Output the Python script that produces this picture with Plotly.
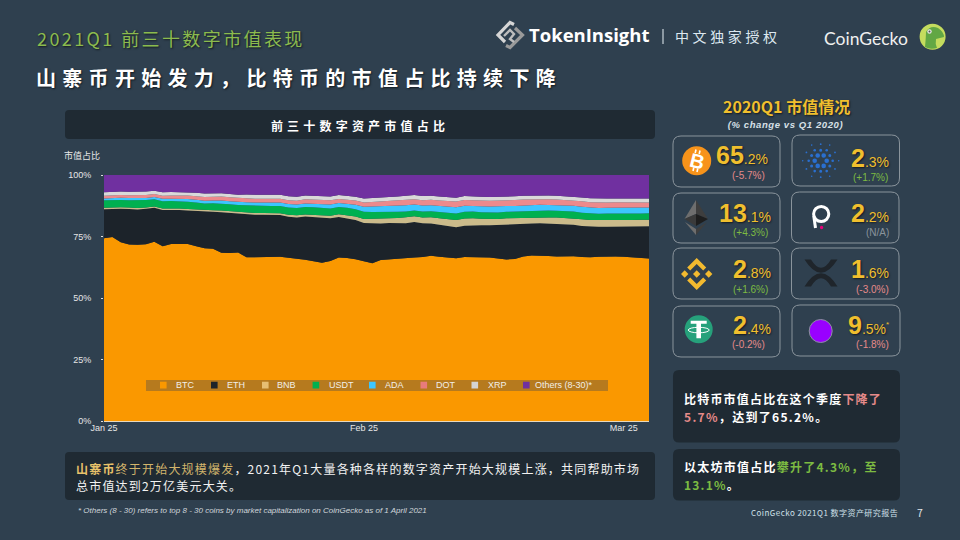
import json, math, re
import plotly.graph_objects as go

# ---------- data (share of market cap, %) ----------
days = list(range(66))
tick_idx = [0, 31, 62]
tick_labels = ["Jan 25", "Feb 25", "Mar 25"]
y_ticks = [0, 25, 50, 75, 100]
y_labels = ["0%", "25%", "50%", "75%", "100%"]

BTC = [74.2,74.9,73.2,72.2,72.2,72.6,73.4,71.8,72.5,72.4,72.5,71.4,70.5,70.2,68.7,68.4,68.4,
       66.8,67.1,67.2,67.3,67.3,66.8,66.5,66.3,65.7,64.9,65.6,67.5,66.9,66.3,65.3,65.0,
       66.0,66.4,66.5,66.3,66.4,66.5,66.8,66.5,66.3,66.1,66.3,66.4,66.4,66.5,66.3,66.0,
       66.1,67.3,67.9,68.0,67.7,67.2,67.3,67.2,66.9,66.8,66.9,66.9,66.8,66.7,66.7,66.4,66.1]
ETH = [11.8,11.5,13.8,14.6,14.5,14.5,14.0,14.9,14.0,14.0,13.7,14.4,14.8,15.0,16.5,16.3,15.7,
       17.5,17.3,17.2,17.2,17.1,16.8,16.8,17.8,18.2,18.6,17.6,16.8,16.3,16.1,15.7,16.3,
       15.0,14.9,14.5,14.1,14.4,13.7,13.1,13.0,12.9,12.6,12.7,12.9,13.1,13.1,13.7,14.4,
       14.0,13.3,13.1,13.3,13.3,13.4,13.1,12.9,12.7,12.5,12.2,12.1,12.2,12.3,12.5,12.7,13.1]
BNB = [.6,.6,.6,.6,.6,.6,.5,.6,.6,.6,.6,.6,.6,.6,.7,.7,.7,
       .7,.7,.7,.7,.7,.8,.9,.9,.9,.9,1.0,1.1,1.3,1.4,1.6,1.9,
       2.0,2.0,2.1,2.4,2.3,2.4,2.5,2.6,2.7,2.9,2.9,2.8,2.6,2.5,2.4,2.4,
       2.6,2.6,2.5,2.5,2.5,2.5,2.6,2.6,2.7,2.7,2.7,2.7,2.7,2.7,2.7,2.7,2.7]
USDT = [3.0,3.0,3.0,3.0,3.1,3.0,3.0,3.0,3.0,3.0,3.0,2.9,2.9,2.9,2.9,2.9,2.9,
        3.0,3.0,3.0,3.0,3.0,3.0,3.0,3.0,3.0,3.0,3.0,3.0,3.0,3.0,3.0,2.9,
        2.7,2.6,2.6,2.4,2.4,2.4,2.4,2.5,2.6,2.7,2.7,2.7,2.7,2.7,2.7,2.7,
        2.7,2.8,2.8,2.8,2.8,2.8,2.8,2.8,2.7,2.7,2.6,2.6,2.6,2.6,2.6,2.6,2.6]
ADA = [.8,.8,.9,.9,.9,.9,.9,1.0,1.0,1.0,1.1,1.1,1.1,1.1,1.2,1.2,1.2,
       1.3,1.3,1.3,1.4,1.4,1.4,1.4,1.5,1.5,1.5,1.6,1.6,1.6,1.8,2.0,2.2,
       2.4,2.4,2.5,2.5,2.4,2.4,2.5,2.5,2.5,2.5,2.5,2.4,2.4,2.4,2.4,2.3,
       2.3,2.3,2.3,2.3,2.3,2.3,2.3,2.3,2.4,2.4,2.4,2.4,2.4,2.4,2.4,2.4,2.4]
DOT = [1.1,1.1,1.1,1.1,1.2,1.2,1.2,1.3,1.3,1.3,1.4,1.4,1.5,1.5,1.6,1.6,1.6,
       1.6,1.6,1.6,1.6,1.6,1.6,1.6,1.7,1.7,1.7,1.7,1.7,1.7,1.7,1.8,1.9,
       2.0,2.0,2.1,2.2,2.2,2.2,2.2,2.2,2.3,2.3,2.3,2.3,2.3,2.3,2.4,2.4,
       2.4,2.4,2.4,2.4,2.4,2.3,2.3,2.3,2.3,2.2,2.2,2.1,2.1,2.1,2.1,2.0,2.0]
XRP = [1.4,1.4,1.4,1.4,1.4,1.4,1.3,1.4,1.4,1.4,1.4,1.4,1.4,1.4,1.4,1.4,1.4,
       1.5,1.6,1.6,1.6,1.6,1.6,1.6,1.6,1.6,1.6,1.6,1.6,1.6,1.6,1.6,1.6,
       1.6,1.6,1.6,1.7,1.7,1.7,1.6,1.6,1.6,1.6,1.6,1.6,1.6,1.6,1.6,1.5,
       1.5,1.5,1.5,1.5,1.5,1.5,1.5,1.5,1.5,1.6,1.6,1.6,1.6,1.6,1.6,1.6,1.6]
OTHERS = [7.0,6.8,6.8,6.9,6.9,6.8,6.5,7.1,7.0,7.0,7.0,7.3,7.6,7.5,7.4,7.7,8.0,
          8.0,8.1,8.1,8.1,8.1,8.7,8.9,8.4,8.5,8.7,8.8,8.3,8.5,8.9,9.6,9.5,
          9.2,9.1,8.8,8.4,8.1,8.5,8.4,8.7,8.9,9.2,8.5,8.5,8.8,8.9,8.9,8.8,
          8.7,8.5,8.4,8.3,8.4,8.5,8.7,8.8,9.2,9.5,9.6,9.6,9.5,9.5,9.6,9.6,9.6]

series_names = ["BTC", "ETH", "BNB", "USDT", "ADA", "DOT", "XRP", "Others (8-30)*"]
series_values = [BTC, ETH, BNB, USDT, ADA, DOT, XRP, OTHERS]
series_colors = ["#FA9800", "#1C232A", "#CBBB8B", "#00B050", "#3CC6FF", "#EC8A8C", "#D9D9D9", "#7030A0"]
legend_colors = ["#FA9800", "#1C232A", "#E6BE73", "#00B050", "#3CC6FF", "#E97B7B", "#D4D4D4", "#7030A0"]

# ---------- styling ----------
W, H = 960, 540
BG = "#2F404F"
PANEL = "#1F2A33"
GOLD = "#F0BF2E"
GREEN = "#7CBB42"
RED = "#E58A8A"
GREY = "#8A949C"
CJK = "Noto Sans CJK SC"
LAT = "Liberation Sans"

px = lambda x: x / W
py = lambda y: 1 - y / H


def path(*segs):
    out = []
    for s in segs:
        c, nums = s[0], s[1:]
        pts = [f"{px(nums[i]):.5f},{py(nums[i+1]):.5f}" for i in range(0, len(nums), 2)]
        out.append(c + " " + " ".join(pts))
    return " ".join(out)


shapes, annos, spacing = [], [], {}


def add_path(d, fill=None, line=None, lw=0):
    shapes.append(dict(type="path", xref="paper", yref="paper", path=d, layer="above",
                       fillcolor=fill or "rgba(0,0,0,0)",
                       line=dict(color=line or "rgba(0,0,0,0)", width=lw)))


def poly(points, fill=None, line=None, lw=0, close=True):
    segs = [("M",) + points[0]] + [("L",) + p for p in points[1:]]
    d = path(*segs) + (" Z" if close else "")
    add_path(d, fill, line, lw)


def rrect(x0, y0, x1, y1, r, fill=None, line=None, lw=0):
    d = path(("M", x0 + r, y0), ("L", x1 - r, y0), ("Q", x1, y0, x1, y0 + r), ("L", x1, y1 - r),
             ("Q", x1, y1, x1 - r, y1), ("L", x0 + r, y1), ("Q", x0, y1, x0, y1 - r), ("L", x0, y0 + r),
             ("Q", x0, y0, x0 + r, y0)) + " Z"
    add_path(d, fill, line, lw)


def circle(cx, cy, r, fill=None, line=None, lw=0):
    shapes.append(dict(type="circle", xref="paper", yref="paper", layer="above",
                       x0=px(cx - r), x1=px(cx + r), y0=py(cy + r), y1=py(cy - r),
                       fillcolor=fill or "rgba(0,0,0,0)",
                       line=dict(color=line or "rgba(0,0,0,0)", width=lw)))


def txt(x, y, text, size, color="#FFFFFF", anchor="left", ls=0, family=CJK, shadow=None, angle=0):
    font = dict(size=size, color=color, family=family)
    if shadow:
        font["shadow"] = shadow
    annos.append(dict(x=px(x), y=py(y), xref="paper", yref="paper", text=text, showarrow=False,
                      xanchor=anchor, yanchor="middle", align=anchor, font=font, borderpad=0,
                      borderwidth=0, textangle=angle))
    if ls:
        spacing[re.sub(r"<[^>]+>", "", text)] = ls


SH = "1px 1px 2px rgba(0,0,0,0.6)"

# ---------- header ----------
txt(37, 38, "2021Q1 前三十数字市值表现", 18, "#8CBB4E", ls=2.4, shadow=SH)
txt(36, 78, "<b>山寨币开始发力，比特币的市值占比持续下降</b>", 20, "#FFFFFF", ls=6.3, shadow=SH)

poly([(514, 24.5), (510, 22.5), (498, 35), (505, 42)], line="#D6D6D6", lw=3.2, close=False)
poly([(506, 45.5), (510, 47.5), (522.5, 35), (515, 28)], line="#9A9A9A", lw=3.2, close=False)
poly([(504, 36), (510, 30), (514, 34), (510, 39), (514, 42)], line="#BDBDBD", lw=2.4, close=False)
txt(529, 35, "<b>TokenInsight</b>", 18.5, "#FFFFFF", family="Open Sans")
poly([(663, 29), (663, 44)], line="#E8F0F6", lw=1, close=False)
txt(675, 36, "中文独家授权", 14, "#DDE8F0", ls=3.6)
txt(824, 38, "CoinGecko", 17.5, "#F0F0F0", family="Lato")
circle(932.6, 36.7, 13, fill="#C4DC5E")
add_path(path(("M", 925, 47), ("Q", 926, 36, 926, 32), ("Q", 930, 25, 938, 28), ("Q", 944, 32, 944, 37),
              ("L", 936, 39), ("Q", 935, 44, 937, 48), ("Q", 930, 50, 925, 47)) + " Z", fill="#62A744")
circle(929.5, 31.5, 2.2, fill="#E8E8E8")
circle(929.5, 31.5, 1, fill="#555555")

# ---------- left panels ----------
rrect(65, 110, 655, 139, 4, fill=PANEL)
txt(360, 125, "<b>前三十数字资产市值占比</b>", 12, "#FFFFFF", anchor="center", ls=4.2)
txt(64, 156, "市值占比", 9, "#E8E8E8")

rrect(146, 380, 608, 391, 0, fill="#B67A1E")
legend_sw = [160, 211, 262, 312.6, 369, 420.5, 471.5, 523]
legend_tx = [176, 227, 277, 329, 385, 436, 488, 535]
for name, col, sx, tx in zip(series_names, legend_colors, legend_sw, legend_tx):
    rrect(sx, 381.8, sx + 6.6, 388.4, 0, fill=col)
    txt(tx, 385, name, 9, "#F2EFE8", family=LAT)

rrect(65, 452, 655, 500, 4, fill=PANEL)
BODY = 12
txt(76, 468,
    '<span style="color:#E8C26A"><b>山寨币</b></span><span style="color:#D2B56C">终于开始大规模爆发</span>，'
    "2021年Q1大量各种各样的数字资产开始大规模上涨，共同帮助市场", BODY, "#F2F2F2", ls=1.2)
txt(76, 485, "总市值达到2万亿美元大关。", BODY, "#F2F2F2", ls=1.2)
txt(78, 510, "<i>* Others (8 - 30) refers to top 8 - 30 coins by market capitalization on CoinGecko as of 1 April 2021</i>",
    8, "#D0D6DB", family=LAT)

# ---------- right column ----------
txt(786, 106, "<b>2020Q1 市值情况</b>", 16, GOLD, anchor="center", shadow=SH)
txt(785.5, 124, "<b><i>(% change vs Q1 2020)</i></b>", 9.5, "#D8E0E8", anchor="center", family=LAT, ls=0.6)

cards = [  # x0, y0, x1, y1
    (673, 136, 780, 187), (792, 135, 899.5, 186),
    (673, 193, 780, 243), (791.5, 192, 899, 243),
    (673, 248, 780, 299), (791.5, 248, 899, 299),
    (673, 306, 780, 357), (792, 305, 900, 356),
]
big = ["65", "2", "13", "2", "2", "1", "2", "9"]
small = [".2%", ".3%", ".1%", ".2%", ".8%", ".6%", ".4%", ".5%"]
change = ["(-5.7%)", "(+1.7%)", "(+4.3%)", "(N/A)", "(+1.6%)", "(-3.0%)", "(-0.2%)", "(-1.8%)"]
change_col = [RED, GREEN, GREEN, GREY, GREEN, RED, RED, RED]
num_right = [767.7, 888.7, 770.7, 888.7, 770.7, 888.7, 770.7, 885.5]
num_y = [155, 157.5, 212.5, 212.5, 269, 269, 325, 325]
sub_x = [748, 870.7, 750, 877, 750, 872, 748, 872]
sub_y = [175, 177.7, 232.7, 232.7, 289.3, 289.3, 344.3, 344.3]
for i, c in enumerate(cards):
    rrect(*c, 8, line=GREY, lw=1)
    txt(num_right[i], num_y[i], f'<span style="font-size:25px"><b>{big[i]}</b></span>{small[i]}', 14, GOLD,
        anchor="right", family=LAT, shadow=SH)
    txt(sub_x[i], sub_y[i], change[i], 10, change_col[i], anchor="center", family=LAT)
txt(886, 324, "*", 8, GOLD, family=LAT)

# BTC icon
circle(696.7, 160.7, 14.5, fill="#F7931A")
txt(696.7, 160.7, "<b>B</b>", 20, "#FFFFFF", anchor="center", family=LAT, angle=14)
poly([(696, 149.5), (695.2, 153)], line="#FFFFFF", lw=1.6, close=False)
poly([(700, 150.5), (699.2, 154)], line="#FFFFFF", lw=1.6, close=False)
poly([(693.8, 167.5), (693, 171)], line="#FFFFFF", lw=1.6, close=False)
poly([(697.8, 168.5), (697, 172)], line="#FFFFFF", lw=1.6, close=False)

# ADA icon
ADA_BLUE = "#2A6FD0"
acx, acy = 820.7, 160.7
for ring_r, n, dot, off in [(6.0, 6, 2.3, 0), (10.5, 6, 1.5, 30), (12.0, 6, 1.3, 0), (16.5, 6, .9, 30), (18.0, 6, .8, 0)]:
    for k in range(n):
        a = math.radians(off + 60 * k)
        circle(acx + ring_r * math.cos(a), acy + ring_r * math.sin(a), dot, fill=ADA_BLUE)

# ETH icon
poly([(696, 200), (684.5, 219), (696, 214)], fill="#6E6E6E")
poly([(696, 200), (708, 219), (696, 214)], fill="#3E3E3E")
poly([(684.5, 219), (696, 214), (696, 226)], fill="#3A3A3A")
poly([(708, 219), (696, 214), (696, 226)], fill="#1E1E1E")
poly([(685, 222), (696, 229), (696, 235)], fill="#6E6E6E")
poly([(707, 222), (696, 229), (696, 235)], fill="#3E3E3E")

# DOT icon
circle(821.2, 214, 7.6, line="#FFFFFF", lw=3)
poly([(813.8, 216), (815.5, 228)], line="#FFFFFF", lw=3, close=False)
circle(821.6, 227.5, 1.7, fill="#E6007A")

# BNB icon
bx, by = 696.7, 274
BN = "#F3BA2F"
for dx, dy in [(0, 0), (-12, 0), (12, 0)]:
    poly([(bx + dx - 3.7, by + dy), (bx + dx, by + dy - 3.7), (bx + dx + 3.7, by + dy), (bx + dx, by + dy + 3.7)], fill=BN)
poly([(bx, by - 16), (bx + 9.5, by - 6.5), (bx + 6.5, by - 3.5), (bx, by - 10), (bx - 6.5, by - 3.5), (bx - 9.5, by - 6.5)], fill=BN)
poly([(bx, by + 16), (bx + 9.5, by + 6.5), (bx + 6.5, by + 3.5), (bx, by + 10), (bx - 6.5, by + 3.5), (bx - 9.5, by + 6.5)], fill=BN)

# XRP icon
XR = "#1F252B"
add_path(path(("M", 804.5, 259.5), ("L", 811, 259.5), ("Q", 821, 276, 831, 259.5), ("L", 837.5, 259.5), ("Q", 821, 286, 804.5, 259.5)) + " Z", fill=XR)
add_path(path(("M", 804.5, 286.5), ("L", 811, 286.5), ("Q", 821, 270, 831, 286.5), ("L", 837.5, 286.5), ("Q", 821, 260, 804.5, 286.5)) + " Z", fill=XR)

# USDT icon
tx0, ty0 = 698.7, 329.3
circle(tx0, ty0, 14, fill="#26A17B")
poly([(tx0 - 8, ty0 - 8.5), (tx0 + 8, ty0 - 8.5), (tx0 + 8, ty0 - 5.5), (tx0 + 2.3, ty0 - 5.5), (tx0 + 2.3, ty0 + 9), (tx0 - 2.3, ty0 + 9), (tx0 - 2.3, ty0 - 5.5), (tx0 - 8, ty0 - 5.5)], fill="#FFFFFF")
shapes.append(dict(type="circle", xref="paper", yref="paper", layer="above", x0=px(tx0 - 10.5), x1=px(tx0 + 10.5),
                   y0=py(ty0 + 3.5), y1=py(ty0 - 2), fillcolor="rgba(0,0,0,0)", line=dict(color="#FFFFFF", width=1)))

# Others icon
circle(820.7, 331, 11.5, fill="#9900FF", line=GREY, lw=1)

# side notes
rrect(673, 370, 900, 442.5, 6, fill=PANEL)
rrect(673, 449, 900, 500.5, 6, fill=PANEL)
NOTE = 12
txt(684.3, 398.3, f'<b>比特币市值占比在这个季度<span style="color:{RED}">下降了</span></b>', NOTE, "#FFFFFF", ls=1.2)
txt(684.3, 416, f'<b><span style="color:{RED}">5.7%</span>，达到了65.2%。</b>', NOTE, "#FFFFFF", ls=1.3)
txt(684.3, 466.7, f'<b>以太坊市值占比<span style="color:{GREEN}">攀升了4.3%，至</span></b>', NOTE, "#FFFFFF", ls=1.25)
txt(684.3, 484, f'<b><span style="color:{GREEN}">13.1%</span>。</b>', NOTE, "#FFFFFF", ls=1.2)

# footer
txt(751, 512.7, "CoinGecko 2021Q1 数字资产研究报告", 8, "#CFE0EA", ls=0.45)
txt(917, 512, "7", 10.5, "#E0E6EA", family=CJK)

# ---------- figure ----------
fig = go.Figure()
for name, vals, col in zip(series_names, series_values, series_colors):
    fig.add_trace(go.Scatter(x=days, y=vals, name=name, mode="lines", stackgroup="one", groupnorm="percent",
                             line=dict(width=0, color=col), fillcolor=col, showlegend=False, hoverinfo="skip"))

fig.update_layout(
    width=W, height=H, autosize=False, margin=dict(l=0, r=0, t=0, b=0, pad=0, autoexpand=False),
    paper_bgcolor=BG, plot_bgcolor=BG, showlegend=False, shapes=shapes, annotations=annos,
    font=dict(family=LAT, color="#E6E6E6", size=9),
    xaxis=dict(domain=[px(104), px(649)], range=[0, 65], tickmode="array", tickvals=tick_idx, ticktext=tick_labels,
               showgrid=False, zeroline=False, showline=True, linecolor="#E8D9BE", linewidth=1,
               ticks="", ticklabelstandoff=-2, automargin=False, tickfont=dict(size=9, color="#E6E6E6", family=LAT)),
    yaxis=dict(domain=[py(421), py(175)], range=[0, 100], tickmode="array", tickvals=y_ticks, ticktext=y_labels,
               showgrid=False, zeroline=False, showline=False, ticks="outside", ticklen=2, tickcolor="#DDDDDD",
               ticklabelstandoff=8, automargin=False, tickfont=dict(size=9, color="#E6E6E6", family=LAT)),
)

post = """
document.body.style.margin='0';document.documentElement.style.background='%s';
var m=%s;
document.querySelectorAll('.annotation-text').forEach(function(e){
  var s=m[e.textContent]; if(s){e.style.letterSpacing=s+'px';}
});
""" % (BG, json.dumps(spacing, ensure_ascii=False))
fig.write_html("out.html", post_script=post, config=dict(displayModeBar=False))
